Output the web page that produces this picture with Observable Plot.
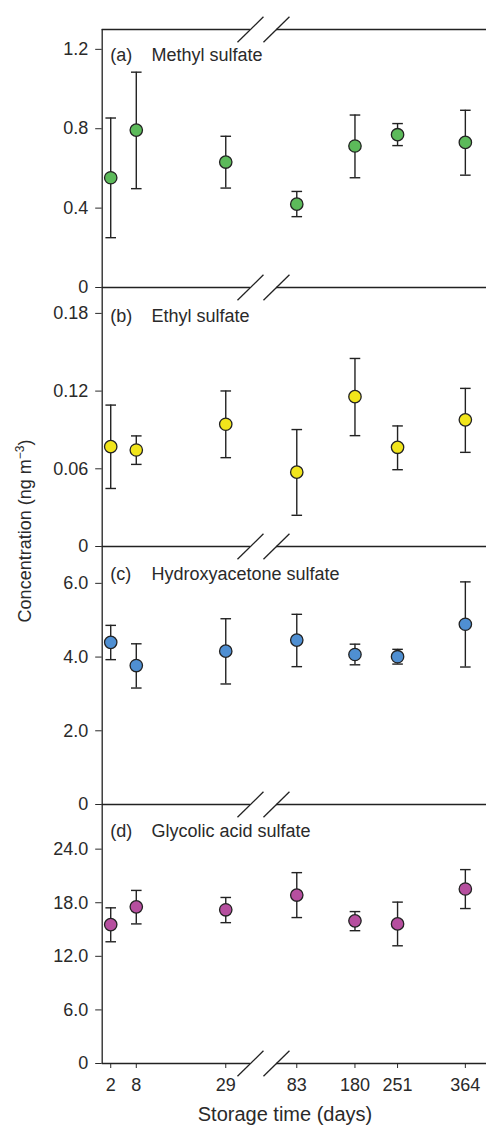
<!DOCTYPE html>
<html>
<head>
<meta charset="utf-8">
<script src="https://cdn.jsdelivr.net/npm/d3@7"></script>
<script src="https://cdn.jsdelivr.net/npm/@observablehq/plot@0.6"></script>
<style>
html, body { margin: 0; padding: 0; background: #fff; }
#fig { position: relative; width: 486px; height: 1126px; overflow: hidden;
       font-family: "Liberation Sans", Arial, Helvetica, sans-serif; color: #2a2a2a; }
#fig svg { position: absolute; left: 0; }
.ytitle { position: absolute; left: 25px; top: 531px; transform: translate(-50%, -50%) rotate(-90deg);
          font-size: 18px; line-height: 1; white-space: nowrap; color: #2a2a2a; }
.ytitle sup { font-size: 12px; vertical-align: 0.55em; line-height: 0; }
.xtitle { position: absolute; left: 285px; top: 1104px; transform: translateX(-50%);
          font-size: 20px; line-height: 20px; white-space: nowrap; color: #2a2a2a; }
</style>
</head>
<body>
<div id="fig"></div>
<script>
// ---------- data ----------
const days = [2, 8, 29, 83, 180, 251, 364];
const dayLabels = ["2", "8", "29", "83", "180", "251", "364"];

const methylMean = [0.553, 0.793, 0.632, 0.420, 0.713, 0.770, 0.731];
const methylLow  = [0.251, 0.498, 0.501, 0.357, 0.553, 0.715, 0.566];
const methylHigh = [0.854, 1.085, 0.762, 0.484, 0.869, 0.826, 0.893];

const ethylMean = [0.0771, 0.0745, 0.0944, 0.0574, 0.1157, 0.0766, 0.0978];
const ethylLow  = [0.0448, 0.0634, 0.0686, 0.0241, 0.0856, 0.0593, 0.0727];
const ethylHigh = [0.1092, 0.0854, 0.1201, 0.0903, 0.1452, 0.0931, 0.1221];

const hydroxyMean = [4.40, 3.77, 4.16, 4.46, 4.07, 4.01, 4.89];
const hydroxyLow  = [3.93, 3.16, 3.27, 3.74, 3.79, 3.81, 3.73];
const hydroxyHigh = [4.86, 4.36, 5.04, 5.16, 4.35, 4.21, 6.04];

const glycolicMean = [15.55, 17.54, 17.21, 18.86, 15.97, 15.63, 19.54];
const glycolicLow  = [13.63, 15.63, 15.77, 16.34, 14.87, 13.18, 17.35];
const glycolicHigh = [17.43, 19.38, 18.59, 21.37, 17.01, 18.07, 21.71];

const yTicksA = [0, 0.4, 0.8, 1.2];     const yLabelsA = ["0", "0.4", "0.8", "1.2"];
const yTicksB = [0, 0.06, 0.12, 0.18];  const yLabelsB = ["0", "0.06", "0.12", "0.18"];
const yTicksC = [0, 2, 4, 6];           const yLabelsC = ["0", "2.0", "4.0", "6.0"];
const yTicksD = [0, 6, 12, 18, 24];     const yLabelsD = ["0", "6.0", "12.0", "18.0", "24.0"];

// ---------- broken x axis (two linear segments) ----------
function axisPos(d) { return d <= 40 ? d : 45.67 + (d - 83) * 0.1408; }
const xDomain = [0, 90.2];
const breakL = 34.8, breakR = 40.9;
const xTickPos = days.map(axisPos);
const xLabelMap = new Map(xTickPos.map((v, i) => [v, dayLabels[i]]));

const panels = [
  {letter: "(a)", name: "Methyl sulfate", color: "#5cba5a", ymax: 1.3,
   mean: methylMean, lo: methylLow, hi: methylHigh, ticks: yTicksA, labels: yLabelsA,
   top: 28.5, h: 258, labelDy: 31.5},
  {letter: "(b)", name: "Ethyl sulfate", color: "#f1e51b", ymax: 0.2,
   mean: ethylMean, lo: ethylLow, hi: ethylHigh, ticks: yTicksB, labels: yLabelsB,
   top: 286.5, h: 259, labelDy: 34},
  {letter: "(c)", name: "Hydroxyacetone sulfate", color: "#4f8fd2", ymax: 7,
   mean: hydroxyMean, lo: hydroxyLow, hi: hydroxyHigh, ticks: yTicksC, labels: yLabelsC,
   top: 545.5, h: 258, labelDy: 33},
  {letter: "(d)", name: "Glycolic acid sulfate", color: "#b64f9f", ymax: 29,
   mean: glycolicMean, lo: glycolicLow, hi: glycolicHigh, ticks: yTicksD, labels: yLabelsD,
   top: 803.5, h: 259, labelDy: 32.5}
];

const capSymbol = {
  draw(ctx, size) { const w = Math.sqrt(size / Math.PI); ctx.moveTo(-w, 0); ctx.lineTo(w, 0); }
};

const fig = document.getElementById("fig");
const INK = "#222";
const PX_PER_UNIT = (486 - 101.7) / (xDomain[1] - xDomain[0]);

panels.forEach((p, k) => {
  const last = k === panels.length - 1;
  const padTop = 16, padBottom = last ? 40 : 16;
  const rows = days.map((d, i) => ({v: axisPos(d), m: p.mean[i], lo: p.lo[i], hi: p.hi[i]}));
  const caps = rows.flatMap(r => [{v: r.v, y: r.lo}, {v: r.v, y: r.hi}]);
  const yLabelMap = new Map(p.ticks.map((t, i) => [t, p.labels[i]]));

  // frame lines with gap at the break
  const edges = last ? [p.ymax, 0] : [p.ymax];
  const frameSegs = edges.flatMap(y => [
    {y, x1: xDomain[0], x2: breakL},
    {y, x1: breakR, x2: xDomain[1]}
  ]);
  const sx = 13 / PX_PER_UNIT;
  const sy = 12.7 * p.ymax / p.h;
  const slashes = edges.flatMap(y => [breakL, breakR].map(x => ({x1: x - sx, x2: x + sx, y1: y - sy, y2: y + sy})));

  const chart = Plot.plot({
    width: 486,
    height: p.h + padTop + padBottom,
    marginTop: padTop,
    marginBottom: padBottom,
    marginLeft: 101.7,
    marginRight: 0,
    style: {background: "transparent", overflow: "visible", fontSize: "18px",
            fontFamily: "'Liberation Sans', Arial, Helvetica, sans-serif", color: "#2a2a2a"},
    x: last
      ? {domain: xDomain, ticks: xTickPos, tickFormat: v => xLabelMap.get(v), tickSize: 5, tickPadding: 10, label: null}
      : {domain: xDomain, axis: null},
    y: {domain: [0, p.ymax], ticks: p.ticks, tickFormat: t => yLabelMap.get(t), tickSize: 6.5, tickPadding: 7.5, label: null},
    marks: [
      Plot.ruleX([0], {y1: 0, y2: p.ymax, stroke: INK, strokeWidth: 1.3}),
      Plot.ruleY(frameSegs, {y: "y", x1: "x1", x2: "x2", stroke: INK, strokeWidth: 1.3}),
      Plot.link(slashes, {x1: "x1", x2: "x2", y1: "y1", y2: "y2", stroke: INK, strokeWidth: 1.3}),
      Plot.ruleX(rows, {x: "v", y1: "lo", y2: "hi", stroke: INK, strokeWidth: 1.4}),
      Plot.dot(caps, {x: "v", y: "y", r: 5.3, symbol: capSymbol, fill: "none", stroke: INK, strokeWidth: 1.4}),
      Plot.dot(rows, {x: "v", y: "m", r: 6.2, fill: p.color, stroke: INK, strokeWidth: 1.3}),
      Plot.text([p.letter], {frameAnchor: "top-left", dx: 8, dy: p.labelDy, lineAnchor: "bottom",
                             textAnchor: "start", fontSize: 18, fill: "#2a2a2a"}),
      Plot.text([p.name], {frameAnchor: "top-left", dx: 49.3, dy: p.labelDy, lineAnchor: "bottom",
                           textAnchor: "start", fontSize: 18, fill: "#2a2a2a"})
    ]
  });
  chart.style.top = (p.top - padTop) + "px";
  fig.appendChild(chart);
});

const yt = document.createElement("div");
yt.className = "ytitle";
yt.innerHTML = "Concentration (ng m<sup>\u22123</sup>)";
fig.appendChild(yt);

const xt = document.createElement("div");
xt.className = "xtitle";
xt.textContent = "Storage time (days)";
fig.appendChild(xt);
</script>
</body>
</html>
